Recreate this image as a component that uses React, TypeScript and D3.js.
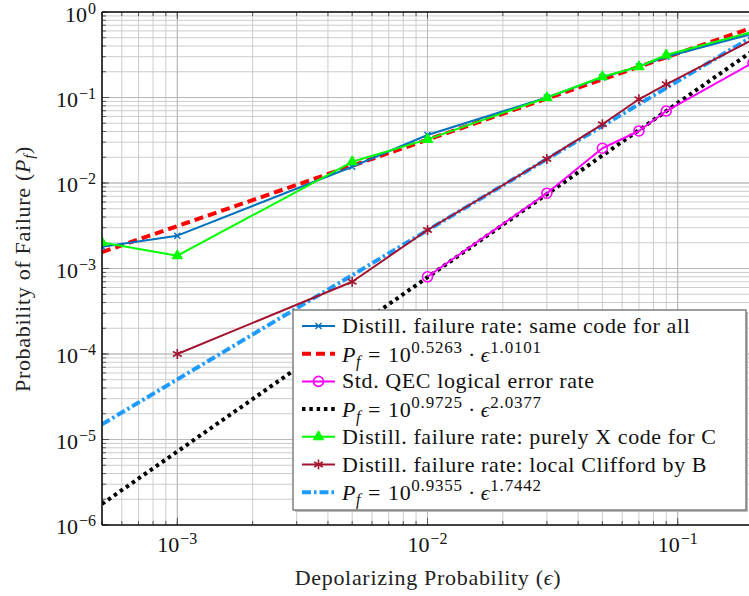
import React from "react";
import * as d3 from "d3";

// ---- data ----
const epsAll = [5e-4, 1e-3, 5e-3, 1e-2, 3e-2, 5e-2, 7e-2, 9e-2, 0.2];
const sameCode = [1.8e-3, 2.42e-3, 0.0155, 0.0364, 0.1, 0.172, 0.23, 0.3, 0.56];
const purelyX = [2.02e-3, 1.41e-3, 0.0177, 0.0324, 0.0995, 0.175, 0.229, 0.314, 0.59];
const epsClifford = [1e-3, 5e-3, 1e-2, 3e-2, 5e-2, 7e-2, 9e-2, 0.2];
const localClifford = [1e-4, 7.0e-4, 2.82e-3, 0.0191, 0.0486, 0.0953, 0.1427, 0.475];
const epsQEC = [1e-2, 3e-2, 5e-2, 7e-2, 9e-2, 0.2];
const stdQEC = [8.0e-4, 7.6e-3, 0.0255, 0.0406, 0.0695, 0.255];
// fitted lines (end points)
const fitEps = [5e-4, 0.2];
const fitSame = [1.556e-3, 0.661];
const fitQEC = [1.762e-6, 0.3533];
const fitClifford = [1.506e-5, 0.5204];

const xTickExps = [-3, -2, -1];
const yTickExps = [0, -1, -2, -3, -4, -5, -6];

type Pt = [number, number];
const zip = (xs: number[], ys: number[]): Pt[] => xs.map((x, i) => [x, ys[i]]);

const W = 749, H = 596;
const L = 102, R = 753, T = 12, B = 525;
const FONT = "'Liberation Serif', 'Times New Roman', serif";

const x = d3.scaleLog().domain([5e-4, 0.2]).range([L, R]);
const y = d3.scaleLog().domain([1e-6, 1]).range([B, T]);

const line = d3.line<Pt>().x((d) => x(d[0])).y((d) => y(d[1]));

function Marker({ kind, cx, cy, color }: { kind: string; cx: number; cy: number; color: string }) {
  if (kind === "x") {
    const r = 3;
    return (
      <g stroke={color} strokeWidth={1.5}>
        <line x1={cx - r} y1={cy - r} x2={cx + r} y2={cy + r} />
        <line x1={cx - r} y1={cy + r} x2={cx + r} y2={cy - r} />
      </g>
    );
  }
  if (kind === "o") {
    return <circle cx={cx} cy={cy} r={5} fill="none" stroke={color} strokeWidth={1.6} />;
  }
  if (kind === "tri") {
    const s = 6;
    return (
      <path
        d={`M${cx},${cy - s} L${cx + s * 0.87},${cy + s * 0.5} L${cx - s * 0.87},${cy + s * 0.5} Z`}
        fill={color}
        stroke={color}
        strokeWidth={1}
      />
    );
  }
  if (kind === "ast") {
    const r = 5;
    const angs = [90, 30, -30];
    return (
      <g stroke={color} strokeWidth={1.6}>
        {angs.map((a) => {
          const rad = (a * Math.PI) / 180;
          return (
            <line
              key={a}
              x1={cx - r * Math.cos(rad)}
              y1={cy - r * Math.sin(rad)}
              x2={cx + r * Math.cos(rad)}
              y2={cy + r * Math.sin(rad)}
            />
          );
        })}
      </g>
    );
  }
  return null;
}

type Series = {
  pts: Pt[];
  color: string;
  width: number;
  dash?: string;
  marker?: string;
};

const cBlue = "#0072bd";
const cRed = "#ff0000";
const cMag = "#ff00ff";
const cBlack = "#000000";
const cGreen = "#00ff00";
const cDark = "#a2142f";
const cLight = "#1e9bff";

const series: Series[] = [
  { pts: zip(epsAll, sameCode), color: cBlue, width: 2, marker: "x" },
  { pts: zip(fitEps, fitSame), color: cRed, width: 4, dash: "9,5" },
  { pts: zip(epsQEC, stdQEC), color: cMag, width: 2, marker: "o" },
  { pts: zip(fitEps, fitQEC), color: cBlack, width: 4, dash: "3.5,3.8" },
  { pts: zip(epsAll, purelyX), color: cGreen, width: 2, marker: "tri" },
  { pts: zip(epsClifford, localClifford), color: cDark, width: 2, marker: "ast" },
  { pts: zip(fitEps, fitClifford), color: cLight, width: 4, dash: "9,3,2.5,3" },
];

const drawOrder = [1, 3, 6, 0, 4, 5, 2];

const LS = 0.6;

function Formula({ x0, y0, a, b }: { x0: number; y0: number; a: string; b: string }) {
  return (
    <text x={x0} y={y0} fontFamily={FONT} fontSize={22} fill="#111" letterSpacing={LS}>
      <tspan fontStyle="italic">P</tspan>
      <tspan fontStyle="italic" fontSize={16} dy={5}>f</tspan>
      <tspan dy={-5} dx={7}>=</tspan>
      <tspan dx={7}>10</tspan>
      <tspan fontSize={17} dy={-9} letterSpacing={0.8}>{a}</tspan>
      <tspan dy={9} dx={5}>·</tspan>
      <tspan dx={5} fontStyle="italic">ϵ</tspan>
      <tspan fontSize={17} dy={-9} letterSpacing={0.8}>{b}</tspan>
    </text>
  );
}

const legendLabels = [
  "Distill. failure rate: same code for all",
  "F:0.5263:1.0101",
  "Std. QEC logical error rate",
  "F:0.9725:2.0377",
  "Distill. failure rate: purely X code for C",
  "Distill. failure rate: local Clifford by B",
  "F:0.9355:1.7442",
];

export default function App() {
  const minorX: number[] = [];
  for (let e = -4; e <= -1; e++) {
    for (let m = 1; m <= 9; m++) {
      const v = m * Math.pow(10, e);
      if (v >= 5e-4 - 1e-12 && v <= 0.2 + 1e-12) minorX.push(v);
    }
  }
  const minorY: number[] = [];
  for (let e = -6; e <= -1; e++) {
    for (let m = 1; m <= 9; m++) minorY.push(m * Math.pow(10, e));
  }
  minorY.push(1);

  const legX = 293, legY = 310, legW = 453, legH = 200;
  const rowY = (i: number) => 326 + i * 27.7;

  return (
    <div style={{ position: "absolute", left: 0, top: 0 }}>
      <svg width={W} height={H} style={{ display: "block", background: "#fff" }}>
        <defs>
          <clipPath id="plotclip">
            <rect x={L} y={T} width={R - L} height={B - T} />
          </clipPath>
        </defs>
        {/* grid */}
        <g stroke="#cccccc" strokeWidth={1}>
          {minorX.map((v) => (
            <line key={"gx" + v} x1={x(v)} x2={x(v)} y1={T} y2={B} />
          ))}
          {minorY.map((v) => (
            <line key={"gy" + v} x1={L} x2={R} y1={y(v)} y2={y(v)} />
          ))}
        </g>
        <g stroke="#b8b8b8" strokeWidth={1}>
          {xTickExps.map((e) => (
            <line key={"Mx" + e} x1={x(Math.pow(10, e))} x2={x(Math.pow(10, e))} y1={T} y2={B} />
          ))}
          {yTickExps.map((e) => (
            <line key={"My" + e} x1={L} x2={R} y1={y(Math.pow(10, e))} y2={y(Math.pow(10, e))} />
          ))}
        </g>
        {/* ticks inside */}
        <g stroke="#555" strokeWidth={1}>
          {minorX.map((v) => (
            <g key={"tx" + v}>
              <line x1={x(v)} x2={x(v)} y1={B} y2={B - 4} />
              <line x1={x(v)} x2={x(v)} y1={T} y2={T + 4} />
            </g>
          ))}
          {minorY.map((v) => (
            <line key={"ty" + v} x1={L} x2={L + 4} y1={y(v)} y2={y(v)} />
          ))}
          {xTickExps.map((e) => (
            <g key={"tMx" + e}>
              <line x1={x(Math.pow(10, e))} x2={x(Math.pow(10, e))} y1={B} y2={B - 7} />
              <line x1={x(Math.pow(10, e))} x2={x(Math.pow(10, e))} y1={T} y2={T + 7} />
            </g>
          ))}
          {yTickExps.map((e) => (
            <line key={"tMy" + e} x1={L} x2={L + 7} y1={y(Math.pow(10, e))} y2={y(Math.pow(10, e))} />
          ))}
        </g>
        {/* series */}
        <g clipPath="url(#plotclip)">
          {drawOrder.map((i) => {
            const s = series[i];
            return (
              <path
                key={"s" + i}
                d={line(s.pts) || ""}
                fill="none"
                stroke={s.color}
                strokeWidth={s.width}
                strokeDasharray={s.dash}
                strokeLinejoin="round"
              />
            );
          })}
          {drawOrder.map((i) => {
            const s = series[i];
            if (!s.marker) return null;
            return (
              <g key={"m" + i}>
                {s.pts.map((p, j) => (
                  <Marker key={j} kind={s.marker as string} cx={x(p[0])} cy={y(p[1])} color={s.color} />
                ))}
              </g>
            );
          })}
        </g>
        {/* axes frame */}
        <g stroke="#111" strokeWidth={1.6} fill="none">
          <line x1={L} x2={L} y1={T} y2={B} />
          <line x1={L} x2={R} y1={B} y2={B} />
          <line x1={L} x2={R} y1={T} y2={T} />
        </g>
        {/* tick labels */}
        {xTickExps.map((e) => (
          <text key={"xl" + e} x={x(Math.pow(10, e))} y={552} textAnchor="middle" fontFamily={FONT} fontSize={22} fill="#111">
            10<tspan fontSize={16} dy={-8} dx={1}>{"−" + Math.abs(e)}</tspan>
          </text>
        ))}
        {yTickExps.map((e) => (
          <text key={"yl" + e} x={96} y={y(Math.pow(10, e)) + (e === 0 ? 10 : 9)} textAnchor="end" fontFamily={FONT} fontSize={22} fill="#111">
            10<tspan fontSize={16} dy={-8} dx={1}>{e === 0 ? "0" : "−" + Math.abs(e)}</tspan>
          </text>
        ))}
        {/* axis titles */}
        <text x={428} y={585} textAnchor="middle" fontFamily={FONT} fontSize={22} fill="#222" letterSpacing={0.7}>
          Depolarizing Probability (<tspan fontStyle="italic">ϵ</tspan>)
        </text>
        <text transform="translate(30,269) rotate(-90)" textAnchor="middle" fontFamily={FONT} fontSize={22} fill="#222" letterSpacing={0.7}>
          Probability of Failure (<tspan fontStyle="italic">P</tspan>
          <tspan fontStyle="italic" fontSize={15} dy={4}>f</tspan>
          <tspan dy={-4}>)</tspan>
        </text>
        {/* legend */}
        <rect x={legX + 2} y={legY + 2} width={legW} height={legH} fill="#bbb" />
        <rect x={legX} y={legY} width={legW} height={legH} fill="#fff" stroke="#777" strokeWidth={1.4} />
        {series.map((s, i) => {
          const ry = rowY(i);
          const lab = legendLabels[i];
          return (
            <g key={"lg" + i}>
              <line x1={302} x2={335} y1={ry} y2={ry} stroke={s.color} strokeWidth={s.width} strokeDasharray={s.dash} />
              {s.marker && <Marker kind={s.marker} cx={318.5} cy={ry} color={s.color} />}
              {lab.startsWith("F:") ? (
                <Formula x0={342} y0={ry + 8} a={lab.split(":")[1]} b={lab.split(":")[2]} />
              ) : (
                <text x={342} y={ry + 7} fontFamily={FONT} fontSize={22} fill="#111" letterSpacing={LS}>
                  {lab}
                </text>
              )}
            </g>
          );
        })}
      </svg>
    </div>
  );
}
